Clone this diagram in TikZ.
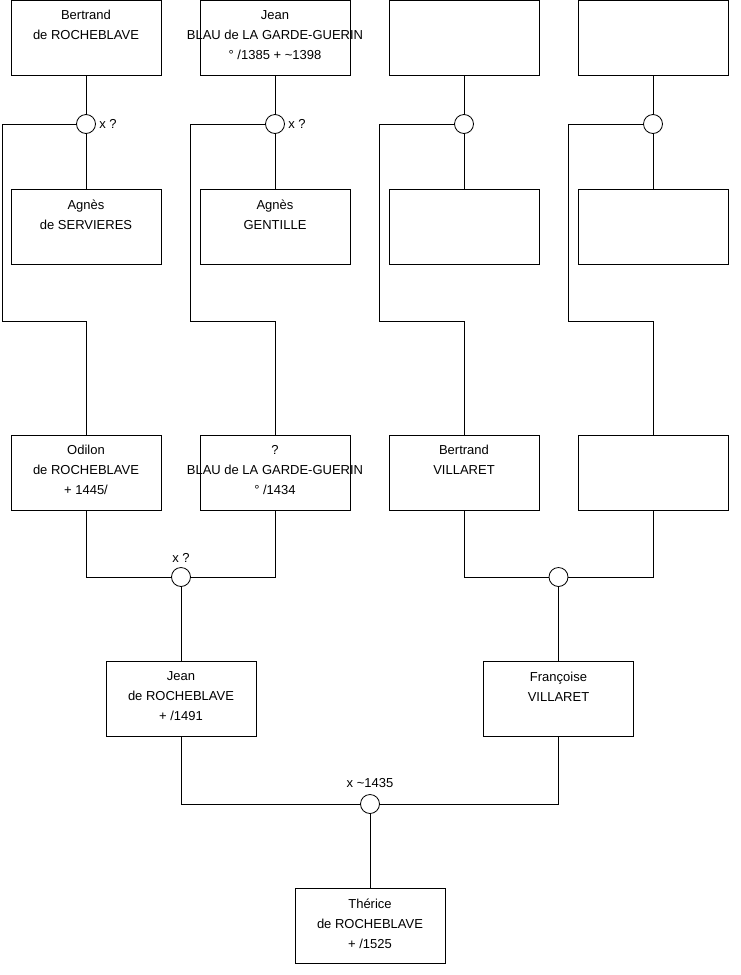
\documentclass[tikz,border=0pt]{standalone}
\usepackage{fontspec}
\setmainfont{Liberation Sans}
\usetikzlibrary{positioning}

\begin{document}
\begin{tikzpicture}[x=1pt, y=-1pt, line width=0.8pt,
  person/.style={draw, minimum width=150, minimum height=75, inner sep=0},
  txt/.style={anchor=north, yshift=-10.3, inner sep=0, align=center, font=\fontsize{13}{20}\selectfont},
  union/.style={draw, circle, fill=white, minimum size=19, inner sep=0},
  note/.style={inner sep=1, font=\fontsize{13}{15}\selectfont}]
  \useasboundingbox (0,0) rectangle (740,975);

  \node[person, label={[txt]north:Bertrand\\de ROCHEBLAVE}] (bertrand) at (86,37.5) {};
  \node[person, label={[txt]north:Jean\\BLAU de LA GARDE-GUERIN\\° /1385 + \textasciitilde1398}] (jeanblau) at (275,37.5) {};
  \node[person] (top3) at (464,37.5) {};
  \node[person] (top4) at (653,37.5) {};

  \node[union] (m1) at (86,124) {};
  \node[union] (m2) at (275,124) {};
  \node[union] (m3) at (464,124) {};
  \node[union] (m4) at (653,124) {};
  \node[note, right=2pt of m1] (x1) {x ?};
  \node[note, right=2pt of m2] (x2) {x ?};

  \node[person, label={[txt]north:Agnès\\de SERVIERES}] (agnesS) at (86,227) {};
  \node[person, label={[txt]north:Agnès\\GENTILLE}] (agnesG) at (275,227) {};
  \node[person] (wife3) at (464,227) {};
  \node[person] (wife4) at (653,227) {};

  \coordinate (c1) at (2,321);
  \coordinate (c2) at (190,321);
  \coordinate (c3) at (379,321);
  \coordinate (c4) at (568,321);

  \node[person, label={[txt]north:Odilon\\de ROCHEBLAVE\\+ 1445/}] (odilon) at (86,472.5) {};
  \node[person, label={[txt]north:?\\BLAU de LA GARDE-GUERIN\\° /1434}] (blau) at (275,472.5) {};
  \node[person, label={[txt]north:Bertrand\\VILLARET}] (bertrandV) at (464,472.5) {};
  \node[person] (parent4) at (653,472.5) {};

  \node[union] (mOB) at (181,577) {};
  \node[union] (mBV) at (558.5,577) {};
  \node[note, above=3pt of mOB] (xOB) {x ?};

  \node[person, label={[txt]north:Jean\\de ROCHEBLAVE\\+ /1491}] (jean) at (181,699) {};
  \node[person, label={[txt]north:Françoise\\VILLARET}] (francoise) at (558.5,699) {};

  \node[union] (mJF) at (370,804) {};
  \node[note, above=5pt of mJF] (xJF) {x \textasciitilde1435};

  \node[person, label={[txt]north:Thérice\\de ROCHEBLAVE\\+ /1525}] (therice) at (370,926) {};

  \draw (bertrand) -- (m1) -- (agnesS);
  \draw (jeanblau) -- (m2) -- (agnesG);
  \draw (top3) -- (m3) -- (wife3);
  \draw (top4) -- (m4) -- (wife4);
  \draw (m1) -| (c1) -| (odilon);
  \draw (m2) -| (c2) -| (blau);
  \draw (m3) -| (c3) -| (bertrandV);
  \draw (m4) -| (c4) -| (parent4);
  \draw (odilon) |- (mOB) -| (blau);
  \draw (bertrandV) |- (mBV) -| (parent4);
  \draw (mOB) -- (jean);
  \draw (mBV) -- (francoise);
  \draw (jean) |- (mJF) -| (francoise);
  \draw (mJF) -- (therice);
\end{tikzpicture}
\end{document}
